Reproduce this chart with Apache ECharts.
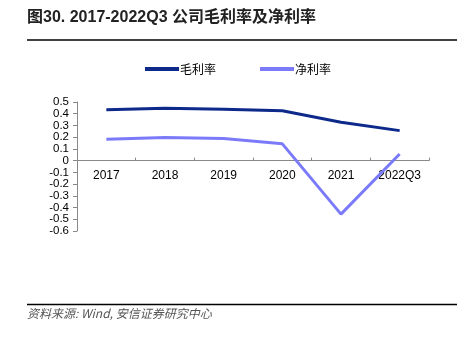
<!DOCTYPE html>
<html><head><meta charset="utf-8">
<script src="https://cdn.jsdelivr.net/npm/echarts@6/dist/echarts.min.js"></script>
<style>html,body{margin:0;padding:0;background:#fff}#c{width:467px;height:338px}</style>
</head><body><div id="c"></div>
<script>
const categories = ['2017','2018','2019','2020','2021','2022Q3'];
const grossMargin = [0.433, 0.447, 0.438, 0.425, 0.327, 0.256];
const netMargin = [0.182, 0.197, 0.188, 0.143, -0.456, 0.057];
const seriesNames = ['毛利率','净利率'];
const titleText = '图30. 2017-2022Q3 公司毛利率及净利率';
const sourceText = '资料来源: Wind, 安信证券研究中心';

const chart = echarts.init(document.getElementById('c'), null, {renderer:'canvas'});
chart.setOption({
  animation:false,
  backgroundColor:'#fff',
  textStyle:{fontFamily:'Liberation Sans, Arial, "Noto Sans CJK SC", sans-serif'},
  graphic:[
    {type:'text', left:27, top:10, style:{text:titleText, fontSize:16, fontWeight:'bold', fill:'#222', fontFamily:'Liberation Sans, Arial, "Noto Sans CJK SC", sans-serif'}},
    {type:'line', shape:{x1:27,y1:40,x2:457,y2:40}, style:{stroke:'#000', lineWidth:1.5}},
    {type:'line', shape:{x1:27,y1:304.5,x2:457,y2:304.5}, style:{stroke:'#000', lineWidth:1.5}},
    {type:'text', left:27, top:307, style:{text:sourceText, fontSize:12, fontStyle:'italic', fill:'#555', fontFamily:'"Noto Sans CJK SC", sans-serif'}}
  ],
  legend:{
    left:140, top:58, itemWidth:34, itemHeight:4, itemGap:44,
    icon:'rect',
    textStyle:{fontSize:12, color:'#000', fontFamily:'"Noto Sans CJK SC", sans-serif', padding:[0,0,0,-4]},
    data:seriesNames
  },
  grid:{left:77, right:38, top:102, bottom:107, containLabel:false},
  xAxis:{
    type:'category', data:categories, boundaryGap:true,
    axisLine:{onZero:true, lineStyle:{color:'#888', width:1}},
    axisTick:{show:true, inside:true, length:3, lineStyle:{color:'#888'}},
    axisLabel:{color:'#000', fontSize:12, margin:-61}
  },
  yAxis:{
    type:'value', min:-0.6, max:0.5, interval:0.1,
    axisLine:{show:true, lineStyle:{color:'#888'}},
    axisTick:{show:true, length:4, lineStyle:{color:'#888'}},
    splitLine:{show:false},
    axisLabel:{color:'#000', fontSize:11.5, margin:8, hideOverlap:false, showMinLabel:true, showMaxLabel:true,
      formatter:v=>String(Math.round(v*10)/10)}
  },
  series:[
    {name:seriesNames[0], type:'line', data:grossMargin, symbol:'none', smooth:false,
     lineStyle:{color:'#0d2a8a', width:3}, itemStyle:{color:'#0d2a8a'}},
    {name:seriesNames[1], type:'line', data:netMargin, symbol:'none', smooth:false,
     lineStyle:{color:'#7b7bfa', width:3}, itemStyle:{color:'#7b7bfa'}}
  ]
});
</script></body></html>
